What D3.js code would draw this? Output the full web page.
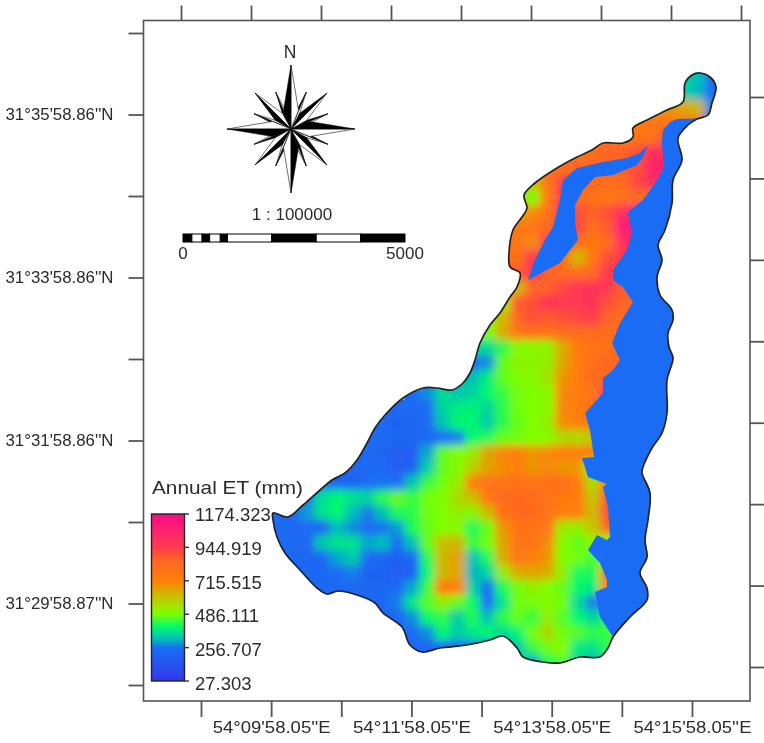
<!DOCTYPE html>
<html>
<head>
<meta charset="utf-8">
<script src="https://cdn.jsdelivr.net/npm/d3@7"></script>
<style>
  body { margin: 0; background: #fff; }
  svg { filter: blur(0.4px); }
  text { font-family: "Liberation Sans", Arial, sans-serif; fill: #2b2b2b; }
  .axis path { display: none; }
  .axis line { stroke: #555; stroke-width: 1.8; }
  .axis text { font-size: 17px; fill: #2b2b2b; }
</style>
</head>
<body>
<div id="map"></div>
<script>
// graticule labels
var lonLabels = ["", "54°09'58.05''E", "", "54°11'58.05''E", "", "54°13'58.05''E", "", "54°15'58.05''E"];
var latLabels = ["", "31°29'58.87''N", "", "31°31'58.86''N", "", "31°33'58.86''N", "", "31°35'58.86''N", ""];

// legend
var legendValues = [1174.323, 944.919, 715.515, 486.111, 256.707, 27.303];
var colorValues = [27, 240, 256, 310, 400, 490, 600, 715, 850, 947, 1174];
var colorStops = ["#3535ec", "#1a6cf4", "#1a6cf4", "#00b8c0", "#00f870", "#80ff00", "#c4c400", "#ff8008", "#ff6820", "#ff3a50", "#ff0a8a"];

// scale bar breaks in metres
var scaleBreaks = [0, 200, 430, 600, 840, 1000, 2000, 3000, 4000, 5000];

var etFirstCol = [26, 26, 23, 22, 21, 19, 17, 15, 15, 15, 14, 14, 14, 14, 13, 13, 13, 12, 12, 12, 12, 9, 7, 6, 5, 4, 3, 2, 1, 0, 0, 0, 0, 0, 2, 4, 6, 7, 8, 15];
var etRows = [
  [350, 350, 320, 240],
  [350, 350, 310, 240],
  [680, 680, 680, 680, 650, 620, 270],
  [760, 760, 760, 770, 770, 770, 770, 270],
  [780, 780, 780, 780, 800, 900, 900, 770, 270],
  [780, 780, 800, 860, 860, 900, 1000, 1000, 800],
  [800, 800, 800, 860, 860, 860, 860, 900, 1050, 1050],
  [600, 600, 600, 780, 920, 870, 820, 820, 830, 920, 1000, 1000],
  [560, 560, 480, 740, 950, 820, 800, 760, 800, 820, 820],
  [640, 640, 700, 780, 950, 900, 860, 900, 1000, 1150, 1150],
  [760, 760, 770, 780, 850, 950, 920, 800, 880, 1100, 1120, 1120],
  [770, 770, 780, 700, 950, 900, 820, 760, 820, 1000, 1000, 1000],
  [800, 800, 800, 950, 900, 820, 620, 760, 900, 950, 950, 950],
  [880, 880, 880, 950, 860, 820, 820, 850, 950, 950, 950, 950],
  [640, 640, 640, 620, 850, 860, 920, 960, 980, 950, 880, 880],
  [560, 560, 520, 880, 900, 980, 950, 960, 980, 900, 860, 850],
  [500, 500, 620, 850, 900, 880, 900, 920, 940, 860, 830, 830],
  [480, 480, 480, 640, 780, 800, 800, 820, 820, 840, 820, 820, 820],
  [360, 360, 360, 430, 500, 500, 510, 640, 750, 780, 800, 850, 850, 850],
  [250, 250, 280, 470, 510, 510, 520, 650, 740, 800, 850, 850, 850],
  [320, 320, 380, 470, 490, 500, 540, 680, 740, 820, 850, 850, 850],
  [230, 280, 360, 330, 350, 400, 440, 480, 490, 500, 700, 740, 780, 1000, 1000],
  [230, 230, 230, 240, 350, 380, 390, 350, 430, 480, 490, 500, 700, 740, 800, 800, 800],
  [230, 230, 210, 220, 240, 330, 400, 400, 340, 430, 470, 490, 520, 690, 720, 760, 760],
  [230, 230, 230, 220, 220, 230, 250, 270, 400, 420, 470, 480, 490, 500, 560, 560, 600, 600],
  [230, 230, 230, 220, 190, 190, 300, 470, 490, 530, 650, 700, 720, 680, 700, 720, 720, 730, 730],
  [220, 220, 230, 230, 230, 190, 200, 340, 470, 500, 580, 660, 690, 730, 680, 700, 680, 680, 480, 480],
  [220, 220, 210, 210, 240, 260, 240, 330, 440, 480, 520, 740, 780, 790, 800, 790, 790, 820, 750, 560, 800, 850],
  [270, 270, 370, 400, 370, 350, 430, 470, 440, 480, 490, 560, 610, 760, 830, 840, 830, 790, 760, 740, 600, 880, 900],
  [230, 240, 290, 370, 400, 320, 270, 330, 420, 430, 480, 490, 520, 510, 620, 810, 840, 840, 790, 740, 720, 620, 900, 900],
  [230, 230, 240, 210, 320, 280, 240, 260, 290, 420, 470, 490, 500, 420, 470, 680, 790, 790, 770, 530, 520, 600, 850, 850],
  [240, 230, 230, 340, 370, 370, 300, 320, 260, 330, 470, 610, 620, 440, 480, 650, 780, 780, 700, 500, 470, 500, 480, 480],
  [220, 220, 220, 230, 300, 340, 250, 220, 200, 240, 430, 620, 660, 330, 420, 640, 770, 720, 680, 490, 480, 450, 480, 480],
  [220, 220, 220, 220, 250, 270, 210, 210, 190, 200, 400, 620, 650, 310, 350, 520, 640, 650, 640, 520, 420, 420, 780, 800],
  [220, 220, 220, 220, 220, 220, 230, 300, 440, 760, 720, 340, 260, 420, 480, 520, 490, 470, 400, 380, 700, 700],
  [220, 220, 220, 220, 270, 380, 460, 520, 470, 410, 250, 370, 480, 480, 500, 480, 360, 270, 270],
  [220, 220, 230, 280, 410, 430, 340, 420, 330, 430, 470, 440, 520, 460, 400, 350, 420, 420],
  [220, 220, 240, 280, 400, 340, 380, 400, 360, 400, 480, 560, 480, 460, 430, 440, 480],
  [220, 220, 230, 240, 240, 260, 280, 290, 340, 440, 480, 500, 380, 370, 430, 430],
  [340, 340, 300, 420, 460, 360, 320, 320]
];
var etBase = [27, 7];
var etCell = 1.5;

// river bed value, flat over the two low ET zones
var bedValue = 256;

// watershed and low ET zones, map units = x, y pairs
var outline = [
  [27.3, 51.3], [28.8, 51.7], [30.3, 50.5], [32, 49], [33.2, 48], [34.5, 47.3], [35.7, 46], [36.7, 44.3], [37.5, 42.8], [38.5, 41.5],
  [40.3, 39.8], [42.3, 38.8], [43.7, 38.8], [45.2, 39], [46.3, 38.3], [47, 37.3], [47.5, 36], [48, 34.3], [49, 32.5], [50, 31.3],
  [51, 29.7], [51.7, 28.7], [52, 27.3], [51, 26.7], [50.9, 25.3], [51.3, 23], [52.2, 21.7], [52.7, 20.8], [52.4, 19.5], [53.5, 18.3],
  [55.7, 16.8], [57.7, 15.7], [59.2, 15], [60.3, 14.3], [62.3, 14.3], [63.3, 13.7], [63.3, 12.8], [64.7, 12], [66.7, 11], [68.3, 10.2],
  [68.5, 8.3], [69.2, 7.5], [70, 7.3], [71, 7.7], [71.6, 8.7], [71.2, 10.3], [70.8, 11.5], [69.7, 11.9], [68.8, 12.5], [67.8, 13.8],
  [68.2, 16], [67.3, 18], [67.2, 20.3], [66.5, 23], [65.8, 24.5], [66.2, 26], [65.7, 27.7], [66, 29.5], [67.2, 31], [67.3, 32],
  [66.8, 33.3], [66.9, 34.7], [67.3, 35.8], [66.7, 38], [66.7, 41.3], [66.2, 43.3], [65.2, 44.8], [64.3, 46.7], [64.2, 47.3], [65, 49.3],
  [64.8, 52], [64.5, 54], [64.7, 55.7], [64, 57.3], [64.7, 58.8], [64.7, 60], [63, 61.7], [61.3, 63.7], [60.8, 64.8], [60, 65.7],
  [58, 65.7], [56, 66.3], [54.3, 66.2], [52.3, 65.7], [51.7, 64.8], [50.3, 63.6], [49, 64], [46.7, 64.5], [44, 64.8], [42.2, 65.2],
  [41, 64.5], [40.2, 62.7], [38.3, 61.3], [37.5, 60.3], [35.7, 59.5], [33.8, 59.1], [32.7, 59.4], [31.7, 58.8], [30, 57], [28.5, 55.3],
  [27.7, 53.7], [27.3, 52]
];
var eastBed = [
  [74, 11.7], [67.7, 11.9], [67, 12.2], [66.3, 13], [66.2, 14.3], [66.4, 16.7], [65.7, 18], [64.3, 20], [62.8, 21.2], [63.2, 23.3],
  [62.7, 25], [61.3, 27], [61.3, 28], [62.3, 28.7], [63.3, 30.2], [62, 32.3], [61.2, 34.3], [62, 36], [61.3, 37], [60.3, 37.8],
  [60.3, 39.3], [58.5, 41.3], [59, 43], [59.4, 45.7], [58.2, 45.8], [58.8, 47.7], [60.7, 48.4], [60.3, 48.7], [60.8, 50.7], [61, 53.7],
  [60.7, 54], [59.7, 53.5], [58.8, 55], [60, 56.3], [60.7, 58], [60.7, 58.7], [59.5, 59.2], [60, 61.7], [61.3, 63.7], [74, 66]
];
var innerBed = [
  [52.8, 28], [53.5, 26], [54.5, 24], [55.3, 22.7], [56, 20], [56.3, 18], [57.7, 16.8], [60.3, 16.2], [62.7, 15.8], [64, 15.3],
  [64.8, 14.5], [64.3, 15.7], [63.7, 16.5], [61.3, 17.5], [59.5, 17.7], [58.3, 19], [57.5, 20.5], [57.5, 22.3], [57.8, 24], [57, 25],
  [56, 26.3], [54.3, 27.2]
];

var width = 764, height = 743;
var frame = { left: 143.5, right: 750, top: 20.5, bottom: 701 };

var svg = d3.select("#map").append("svg")
  .attr("width", width)
  .attr("height", height);

// map units run 10 px each, same origin as the page frame
var mapX = d3.scaleLinear().domain([0, 76.4]).range([0, width]);
var mapY = d3.scaleLinear().domain([0, 74.3]).range([0, height]);
var ring = d3.line()
  .x(function (d) { return mapX(d[0]); })
  .y(function (d) { return mapY(d[1]); })
  .curve(d3.curveCatmullRomClosed.alpha(0.5));
var poly = d3.line()
  .x(function (d) { return mapX(d[0]); })
  .y(function (d) { return mapY(d[1]); });

var colorScale = d3.scaleLinear().domain(colorValues).range(colorStops).clamp(true);

var defs = svg.append("defs");
defs.append("clipPath").attr("id", "basin")
  .append("path").attr("d", ring(outline));
var blur = defs.append("filter").attr("id", "soft")
  .attr("x", "-5%").attr("y", "-5%").attr("width", "110%").attr("height", "110%");
blur.append("feGaussianBlur").attr("stdDeviation", 4.4);
var ramp = defs.append("linearGradient").attr("id", "ramp")
  .attr("x1", 0).attr("x2", 0).attr("y1", 1).attr("y2", 0);
colorValues.forEach(function (v, i) {
  ramp.append("stop")
    .attr("offset", (v - 27.303) / (1174.323 - 27.303))
    .attr("stop-color", colorStops[i]);
});

// raster, plain copy under the blurred one so the edge does not fade out
var basin = svg.append("g").attr("clip-path", "url(#basin)");
var cells = [];
etRows.forEach(function (row, j) {
  row.forEach(function (v, i) {
    cells.push({ col: etFirstCol[j] + i, row: j, value: v });
  });
});
function drawCells(g) {
  g.selectAll("rect")
    .data(cells)
    .enter()
    .append("rect")
    .attr("x", function (d) { return mapX(etBase[0] + d.col * etCell); })
    .attr("y", function (d) { return mapY(etBase[1] + d.row * etCell); })
    .attr("width", mapX(etCell) + 0.5)
    .attr("height", mapY(etCell) + 0.5)
    .attr("fill", function (d) { return colorScale(d.value); });
}
basin.append("g").call(drawCells);
basin.append("g").attr("filter", "url(#soft)").call(drawCells);

// low ET zones
basin.selectAll(".bed")
  .data([eastBed, innerBed])
  .enter()
  .append("path")
  .attr("class", "bed")
  .attr("d", function (d) { return poly(d) + "Z"; })
  .attr("fill", colorScale(bedValue));

svg.append("path")
  .attr("d", ring(outline))
  .attr("fill", "none")
  .attr("stroke", "#222")
  .attr("stroke-width", 1.7);

// frame and graticule
svg.append("rect")
  .attr("x", frame.left)
  .attr("y", frame.top)
  .attr("width", frame.right - frame.left)
  .attr("height", frame.bottom - frame.top)
  .attr("fill", "none")
  .attr("stroke", "#555")
  .attr("stroke-width", 1.6);

var lonIdx = d3.range(lonLabels.length);
var latIdx = d3.range(latLabels.length);
var lonBottom = d3.scaleLinear().domain([0, 7]).range([201, 692]);
var lonTop = d3.scaleLinear().domain([0, 8]).range([181, 741]);
var latLeft = d3.scaleLinear().domain([0, 8]).range([685, 33]);
var latRight = d3.scaleLinear().domain([0, 7]).range([667, 97]);

var bottomAxis = svg.append("g").attr("class", "axis")
  .attr("transform", "translate(0," + frame.bottom + ")")
  .call(d3.axisBottom(lonBottom).tickValues(lonIdx).tickSize(16).tickPadding(4)
    .tickFormat(function (d) { return lonLabels[d]; }));
bottomAxis.selectAll("text")
  .filter(function (d) { return lonLabels[d] != ""; })
  .attr("textLength", 118)
  .attr("lengthAdjust", "spacingAndGlyphs");
svg.append("g").attr("class", "axis")
  .attr("transform", "translate(0," + frame.top + ")")
  .call(d3.axisTop(lonTop).tickValues(d3.range(9)).tickSize(15).tickFormat(""));
var leftAxis = svg.append("g").attr("class", "axis")
  .attr("transform", "translate(" + frame.left + ",0)")
  .call(d3.axisLeft(latLeft).tickValues(latIdx).tickSize(15).tickPadding(15)
    .tickFormat(function (d) { return latLabels[d]; }));
leftAxis.selectAll("text")
  .filter(function (d) { return latLabels[d] != ""; })
  .attr("textLength", 108)
  .attr("lengthAdjust", "spacingAndGlyphs");
svg.append("g").attr("class", "axis")
  .attr("transform", "translate(" + frame.right + ",0)")
  .call(d3.axisRight(latRight).tickValues(d3.range(8)).tickSize(14).tickFormat(""));

// legend
var legendY = d3.scaleLinear().domain([27.303, 1174.323]).range([681, 514]);
svg.append("text")
  .attr("x", 152)
  .attr("y", 494)
  .attr("textLength", 151)
  .attr("lengthAdjust", "spacingAndGlyphs")
  .style("font-size", "18.5px")
  .text("Annual ET (mm)");
svg.append("rect")
  .attr("x", 151.5)
  .attr("y", legendY(1174.323))
  .attr("width", 33)
  .attr("height", legendY(27.303) - legendY(1174.323))
  .attr("fill", "url(#ramp)")
  .attr("stroke", "#222")
  .attr("stroke-width", 1.4);
svg.selectAll(".legend-tick")
  .data(legendValues)
  .enter()
  .append("line")
  .attr("class", "legend-tick")
  .attr("x1", 184)
  .attr("x2", 189)
  .attr("y1", function (d) { return legendY(d); })
  .attr("y2", function (d) { return legendY(d); })
  .attr("stroke", "#333")
  .attr("stroke-width", 1.4);
svg.selectAll(".legend-label")
  .data(legendValues)
  .enter()
  .append("text")
  .attr("class", "legend-label")
  .attr("x", 195)
  .attr("y", function (d, i) { return legendY(d) + 7 + i * 0.4; })
  .style("font-size", "18.5px")
  .text(function (d) { return d.toFixed(3); });

// north arrow
var rose = svg.append("g").attr("transform", "translate(291,129)");
var tips = [
  { angle: 22.5, r: 40, side: 13, spread: 11 }, { angle: 67.5, r: 40, side: 13, spread: 11 },
  { angle: 112.5, r: 40, side: 13, spread: 11 }, { angle: 157.5, r: 40, side: 13, spread: 11 },
  { angle: 202.5, r: 40, side: 13, spread: 11 }, { angle: 247.5, r: 40, side: 13, spread: 11 },
  { angle: 292.5, r: 40, side: 13, spread: 11 }, { angle: 337.5, r: 40, side: 13, spread: 11 },
  { angle: 45, r: 51, side: 18, spread: 16 }, { angle: 135, r: 51, side: 18, spread: 16 },
  { angle: 225, r: 51, side: 18, spread: 16 }, { angle: 315, r: 51, side: 18, spread: 16 },
  { angle: 0, r: 64, side: 20, spread: 22 }, { angle: 90, r: 64, side: 20, spread: 22 },
  { angle: 180, r: 64, side: 20, spread: 22 }, { angle: 270, r: 64, side: 20, spread: 22 }
];
function polar(r, a) {
  var t = (a - 90) * Math.PI / 180;
  return [r * Math.cos(t), r * Math.sin(t)];
}
tips.forEach(function (t) {
  var tip = polar(t.r, t.angle);
  var sideL = polar(t.side, t.angle - t.spread);
  var sideR = polar(t.side, t.angle + t.spread);
  rose.append("path")
    .attr("d", d3.line()([[0, 0], tip, sideR]) + "Z")
    .attr("fill", "#fff")
    .attr("stroke", "#333")
    .attr("stroke-width", 0.7);
  rose.append("path")
    .attr("d", d3.line()([[0, 0], tip, sideL]) + "Z")
    .attr("fill", "#000")
    .attr("stroke", "#000")
    .attr("stroke-width", 0.5);
});
svg.append("text")
  .attr("x", 290)
  .attr("y", 58)
  .attr("text-anchor", "middle")
  .style("font-size", "17.5px")
  .text("N");

// scale bar
var barX = d3.scaleLinear().domain([0, 5000]).range([183, 405]);
svg.append("text")
  .attr("x", 292)
  .attr("y", 220)
  .attr("text-anchor", "middle")
  .style("font-size", "17px")
  .text("1 : 100000");
svg.selectAll(".bar-seg")
  .data(d3.pairs(scaleBreaks))
  .enter()
  .append("rect")
  .attr("class", "bar-seg")
  .attr("x", function (d) { return barX(d[0]); })
  .attr("y", 234)
  .attr("width", function (d) { return barX(d[1]) - barX(d[0]); })
  .attr("height", 8)
  .attr("fill", function (d, i) { return i % 2 == 0 ? "#000" : "#fff"; })
  .attr("stroke", "#000")
  .attr("stroke-width", 1);
svg.selectAll(".bar-label")
  .data([0, 5000])
  .enter()
  .append("text")
  .attr("class", "bar-label")
  .attr("x", function (d) { return barX(d); })
  .attr("y", 259)
  .attr("text-anchor", "middle")
  .style("font-size", "17px")
  .text(function (d) { return d; });
</script>
</body>
</html>
